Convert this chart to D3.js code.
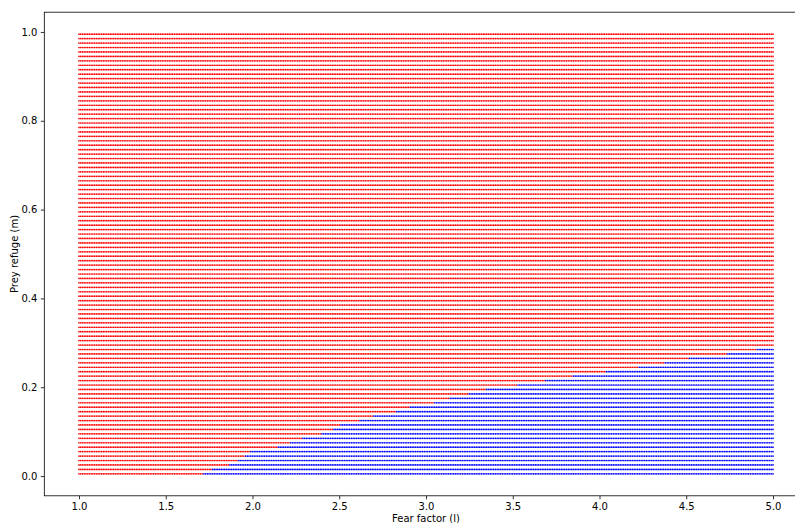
<!DOCTYPE html>
<html>
<head>
<meta charset="utf-8">
<script src="https://cdn.jsdelivr.net/npm/d3@7"></script>
<style>
  html, body { margin: 0; padding: 0; background: #fff; overflow: hidden; }
  svg { display: block; }
  text { font-family: "DejaVu Sans", sans-serif; }
</style>
</head>
<body>
<script>
// Parameter grid: fear factor l (x) and prey refuge m (y)
const fearFactor = d3.range(0, 401).map(i => +(1 + i * 0.01).toFixed(2));
const preyRefuge = d3.range(0, 100).map(i => +(0.005 + i * 0.01).toFixed(3));

// For each refuge row (from m = 0.005 upward): the fear factor at which
// the outcome switches from the red state to the blue state.
// Rows beyond this list stay red over the whole range.
const blueOnset = [
  1.72, 1.77, 1.87, 1.92, 1.96, 1.99, 2.15, 2.22, 2.29, 2.40,
  2.47, 2.51, 2.62, 2.70, 2.83, 2.91, 3.05, 3.14, 3.25, 3.35,
  3.53, 3.69, 3.85, 4.04, 4.23, 4.38, 4.52, 4.74, 4.91
];

const xTicks = [1.0, 1.5, 2.0, 2.5, 3.0, 3.5, 4.0, 4.5, 5.0];
const yTicks = [0.0, 0.2, 0.4, 0.6, 0.8, 1.0];

const W = 795, H = 523;
const plot = { left: 44.3, right: 807.7, top: 12.2, bottom: 495.8 };

const x = d3.scaleLinear().domain([0.8, 5.2]).range([plot.left, plot.right]);
const y = d3.scaleLinear().domain([-0.0445, 1.0445]).range([plot.bottom, plot.top]);

const svg = d3.select("body").append("svg").attr("width", W).attr("height", H);

// grid points
const points = [];
preyRefuge.forEach((m, r) => {
  const onset = r < blueOnset.length ? blueOnset[r] : Infinity;
  fearFactor.forEach(l => points.push({ l, m, blue: l >= onset - 1e-9 }));
});

svg.append("g")
  .selectAll("circle")
  .data(points)
  .join("circle")
  .attr("cx", d => x(d.l))
  .attr("cy", d => y(d.m))
  .attr("r", 0.85)
  .attr("fill", d => d.blue ? "#0000ff" : "#ff0000");

// axes
const xAxis = svg.append("g")
  .attr("transform", `translate(0,${plot.bottom})`)
  .call(d3.axisBottom(x).tickValues(xTicks).tickFormat(d3.format(".1f")).tickSize(3.5).tickPadding(3.5));
const yAxis = svg.append("g")
  .attr("transform", `translate(${plot.left},0)`)
  .call(d3.axisLeft(y).tickValues(yTicks).tickFormat(d3.format(".1f")).tickSize(3.5).tickPadding(3.5));

[xAxis, yAxis].forEach(g => {
  g.select(".domain").remove();
  g.selectAll(".tick line").attr("stroke", "#000").attr("stroke-width", 0.8);
  g.selectAll(".tick text").attr("fill", "#000").style("font-size", "10px")
    .style("font-family", "'DejaVu Sans', sans-serif");
});

// frame
svg.append("rect")
  .attr("x", plot.left).attr("y", plot.top)
  .attr("width", plot.right - plot.left).attr("height", plot.bottom - plot.top)
  .attr("fill", "none").attr("stroke", "#000").attr("stroke-width", 0.8);

// axis titles
svg.append("text")
  .attr("x", (plot.left + plot.right) / 2).attr("y", 522)
  .attr("text-anchor", "middle").style("font-size", "10px")
  .text("Fear factor (l)");
svg.append("text")
  .attr("transform", `translate(18,${(plot.top + plot.bottom) / 2}) rotate(-90)`)
  .attr("text-anchor", "middle").style("font-size", "10px")
  .text("Prey refuge (m)");
</script>
</body>
</html>
